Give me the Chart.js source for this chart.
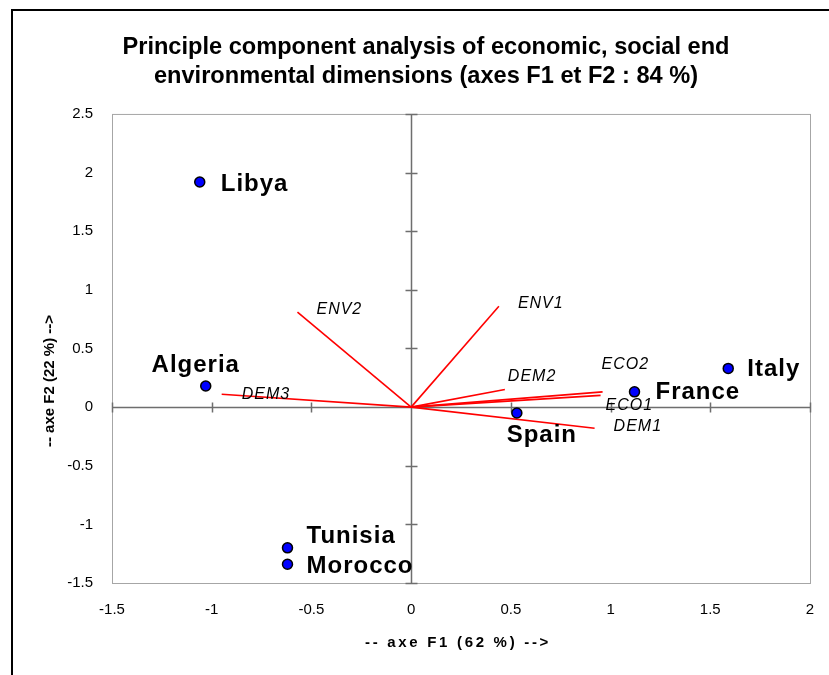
<!DOCTYPE html>
<html>
<head>
<meta charset="utf-8">
<script src="https://cdn.jsdelivr.net/npm/chart.js@4.4.0/dist/chart.umd.min.js"></script>
<style>
    body { margin: 0; background: #fff; overflow: hidden; }
    #quadro { position: absolute; left: 11px; top: 9px; width: 818px; height: 666px; border-left: 2px solid #000; border-top: 2px solid #000; overflow: hidden; }
    canvas { position: absolute; left: 0; top: 0; }
</style>
</head>
<body>
<div id="quadro"><canvas id="grafico" width="826" height="664"></canvas></div>
<script>
// países (scores nas componentes F1 e F2)
const paises = ['Libya', 'Algeria', 'Tunisia', 'Morocco', 'Spain', 'France', 'Italy'];
const paisesF1 = [-1.06, -1.03, -0.62, -0.62, 0.53, 1.12, 1.59];
const paisesF2 = [1.92, 0.18, -1.20, -1.34, -0.05, 0.13, 0.33];

// variáveis (vetores a partir da origem)
const variaveis = ['ENV1', 'ENV2', 'DEM1', 'DEM2', 'DEM3', 'ECO1', 'ECO2'];
const variaveisF1 = [0.44, -0.57, 0.92, 0.47, -0.95, 0.95, 0.96];
const variaveisF2 = [0.86, 0.81, -0.18, 0.15, 0.11, 0.10, 0.13];

const titulo = ['Principle component analysis of economic, social end', 'environmental dimensions (axes F1 et F2 : 84 %)'];
const tituloX = '-- axe F1 (62 %) -->';
const tituloY = '-- axe F2 (22 %) -->';

const FONTE = "'Liberation Sans', Arial, sans-serif";

// deslocamento dos rótulos [dx, dy, alinhamento]
const posPaises = {
    Libya: [21, 2, 'left'], Algeria: [-10, -21, 'center'], Tunisia: [19, -11, 'left'],
    Morocco: [19, 2, 'left'], Spain: [25, 22, 'center'], France: [21, 1, 'left'], Italy: [19, 1, 'left']
};
const posVariaveis = {
    ENV1: [19, -3], ENV2: [19, -3], DEM1: [19, -2], DEM2: [3, -13],
    DEM3: [20, 0], ECO1: [5, 10], ECO2: [-1, -27]
};

const dadosPaises = paises.map((p, i) => ({ x: paisesF1[i], y: paisesF2[i] }));

const vetores = variaveis.map((v, i) => ({
    label: v,
    data: [{ x: 0, y: 0 }, { x: variaveisF1[i], y: variaveisF2[i] }],
    showLine: true,
    borderColor: '#ff0000',
    borderWidth: 1.6,
    pointRadius: 0,
    order: 2
}));

// moldura da área, eixos no zero com marcas
const eixosZero = {
    id: 'eixosZero',
    beforeDatasetsDraw(chart) {
        const ctx = chart.ctx, a = chart.chartArea;
        const sx = chart.scales.x, sy = chart.scales.y;
        ctx.save();
        ctx.strokeStyle = '#a6a6a6';
        ctx.lineWidth = 1;
        ctx.strokeRect(a.left + 0.5, a.top + 0.5, a.right - a.left, a.bottom - a.top);

        const x0 = Math.round(sx.getPixelForValue(0)) + 0.5;
        const y0 = Math.round(sy.getPixelForValue(0)) + 0.5;
        ctx.strokeStyle = '#6e6e6e';
        ctx.lineWidth = 1.5;
        ctx.beginPath();
        ctx.moveTo(a.left, y0); ctx.lineTo(a.right, y0);
        ctx.moveTo(x0, a.top); ctx.lineTo(x0, a.bottom);
        sx.ticks.forEach(t => {
            const px = Math.round(sx.getPixelForValue(t.value)) + 0.5;
            ctx.moveTo(px, y0 - 5); ctx.lineTo(px, y0 + 5);
        });
        sy.ticks.forEach(t => {
            const py = Math.round(sy.getPixelForValue(t.value)) + 0.5;
            ctx.moveTo(x0 - 6, py); ctx.lineTo(x0 + 6, py);
        });
        ctx.stroke();
        ctx.restore();
    }
};

// rótulos dos pontos, dos vetores e títulos dos eixos
const rotulos = {
    id: 'rotulos',
    afterDatasetsDraw(chart) {
        const ctx = chart.ctx;
        ctx.save();
        ctx.fillStyle = '#000';
        ctx.textBaseline = 'middle';

        ctx.font = 'italic 16px ' + FONTE;
        ctx.textAlign = 'left';
        ctx.letterSpacing = '1px';
        variaveis.forEach((v, i) => {
            const el = chart.getDatasetMeta(i + 1).data[1];
            const d = posVariaveis[v];
            ctx.fillText(v, el.x + d[0], el.y + d[1]);
        });

        ctx.font = 'bold 24px ' + FONTE;
        const meta = chart.getDatasetMeta(0);
        paises.forEach((p, i) => {
            const el = meta.data[i];
            const d = posPaises[p];
            ctx.textAlign = d[2];
            ctx.fillText(p, el.x + d[0], el.y + d[1]);
        });

        ctx.font = 'bold 15px ' + FONTE;
        ctx.textAlign = 'center';
        ctx.letterSpacing = '2.7px';
        ctx.fillText(tituloX, 445, 632);
        ctx.letterSpacing = '0px';
        ctx.translate(37, 370);
        ctx.rotate(-Math.PI / 2);
        ctx.fillText(tituloY, 0, 0);
        ctx.restore();
    }
};

const formatoTick = (v) => String(v);

new Chart(document.getElementById('grafico'), {
    type: 'scatter',
    data: {
        datasets: [{
            label: 'Países',
            data: dadosPaises,
            pointRadius: 5,
            pointBackgroundColor: '#0000ff',
            pointBorderColor: '#000',
            pointBorderWidth: 1.5,
            order: 1
        }].concat(vetores)
    },
    options: {
        responsive: false,
        animation: false,
        devicePixelRatio: 1,
        layout: { padding: { left: 29, right: 29, top: 0, bottom: 0 } },
        plugins: {
            legend: { display: false },
            tooltip: { enabled: false },
            title: {
                display: true,
                text: titulo,
                color: '#000',
                font: { family: FONTE, size: 23.6, weight: 'bold', lineHeight: 1.27 },
                padding: { top: 21, bottom: 22 }
            }
        },
        scales: {
            x: {
                min: -1.5, max: 2,
                grid: { display: false },
                border: { display: false },
                ticks: { stepSize: 0.5, autoSkip: false, maxRotation: 0, padding: 10, color: '#000', font: { family: FONTE, size: 15 }, callback: formatoTick },
                afterFit(s) { s.height = 92; }
            },
            y: {
                min: -1.5, max: 2.5,
                grid: { display: false },
                border: { display: false },
                ticks: { stepSize: 0.5, autoSkip: false, padding: 11, color: '#000', font: { family: FONTE, size: 15 }, callback: formatoTick },
                afterFit(s) { s.width = 70; }
            }
        }
    },
    plugins: [eixosZero, rotulos]
});
</script>
</body>
</html>
